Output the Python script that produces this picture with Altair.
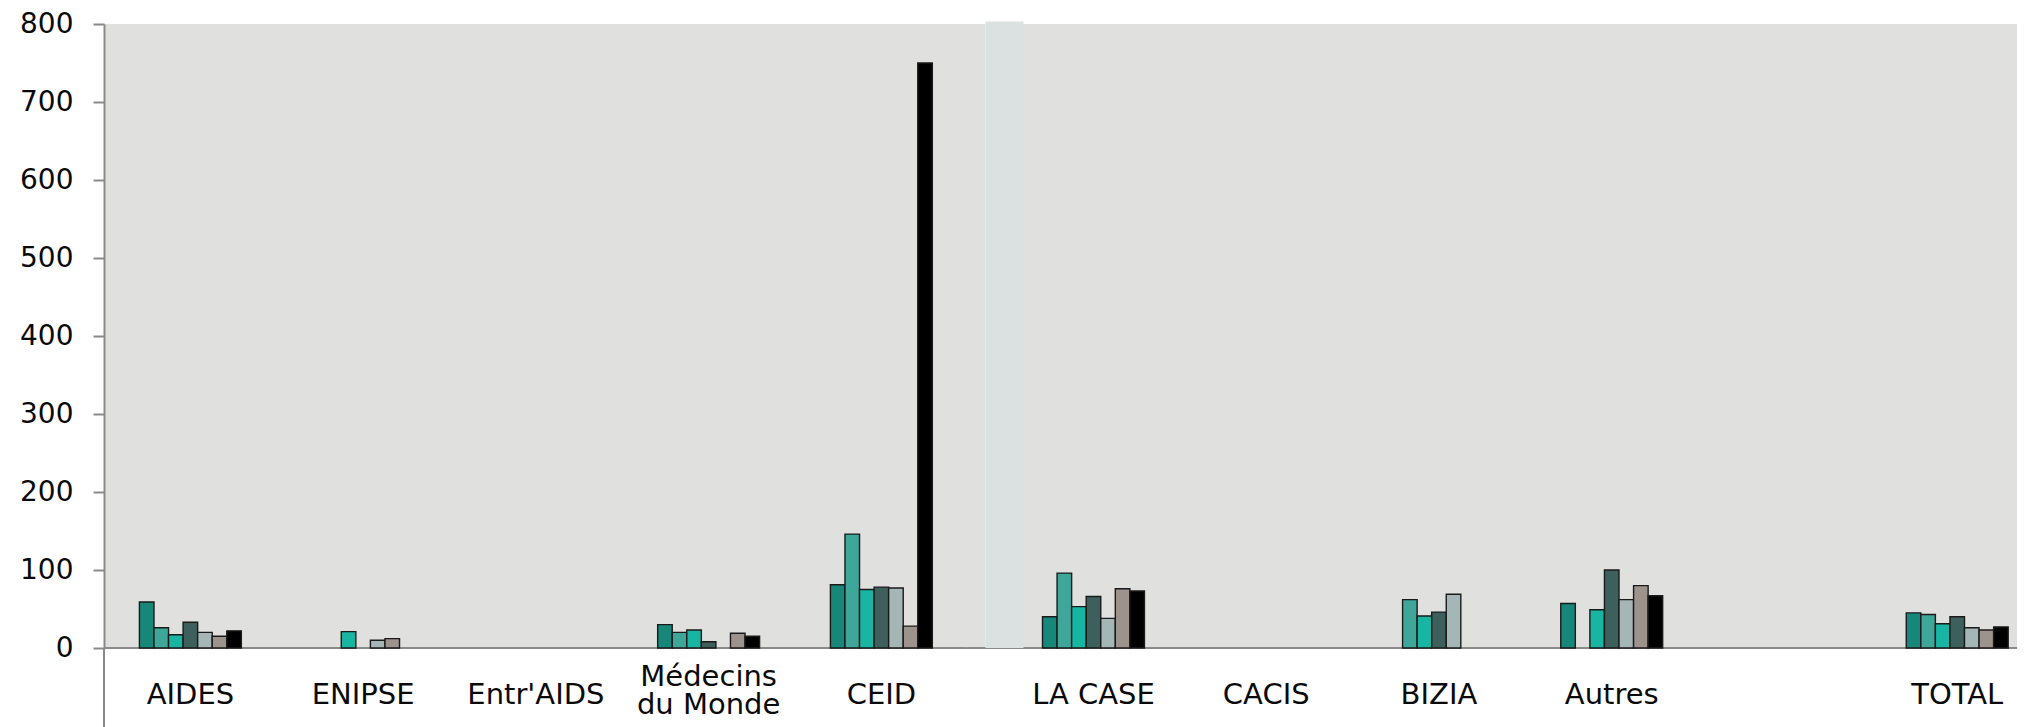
import altair as alt
import pandas as pd

# ---- data ----
series = ["S1", "S2", "S3", "S4", "S5", "S6", "S7"]
series_colors = ["#17877a", "#3fa69a", "#19b5a3", "#3e605c", "#a4b6b6", "#9d938d", "#000000"]

categories_left = ["AIDES", "ENIPSE", "Entr'AIDS", "Médecins du Monde", "CEID"]
categories_right = ["LA CASE", "CACIS", "BIZIA", "Autres", " ", "TOTAL"]

aides = [59, 26, 17, 33, 20, 15, 22]
enipse = [None, None, 21, None, 10, 12, None]
entraids = [None, None, None, None, None, None, None]
medecins = [30, 20, 23, 8, None, 19, 15]
ceid = [81, 146, 75, 78, 77, 28, 750]
la_case = [40, 96, 53, 66, 38, 76, 73]
cacis = [None, None, None, None, None, None, None]
bizia = [None, 62, 41, 46, 69, None, None]
autres = [57, None, 49, 100, 62, 80, 67]
blank = [None, None, None, None, None, None, None]
total = [45, 43, 31, 40, 26, 23, 27]

y_ticks = [0, 100, 200, 300, 400, 500, 600, 700, 800]

table = {
    "AIDES": aides, "ENIPSE": enipse, "Entr'AIDS": entraids,
    "Médecins du Monde": medecins, "CEID": ceid,
    "LA CASE": la_case, "CACIS": cacis, "BIZIA": bizia,
    "Autres": autres, " ": blank, "TOTAL": total,
}
rows = []
for cat, vals in table.items():
    for s, v in zip(series, vals):
        if v is not None:
            rows.append({"cat": cat, "series": s, "value": v})
df = pd.DataFrame(rows)

FONT = "DejaVu Sans"
BG = "#e0e0df"
STRIP = "#dbe0e0"
AXIS_GRAY = "#8a8a8a"
PLOT_H = 624
BAND = 172.75
P_INNER = 0.41
LEFT_W = BAND * len(categories_left)
GAP = 39.1
RIGHT_W = 1010
# right panel: same step as the left one, the last band running past the edge
R_OUTER = (RIGHT_W / BAND - len(categories_right) + P_INNER) / 2
R_ALIGN = (BAND * P_INNER / 2) / (RIGHT_W - BAND * (len(categories_right) - P_INNER))

label_expr = "datum.value == 'Médecins du Monde' ? ['Médecins', 'du Monde'] : datum.value"


def x_axis():
    return alt.Axis(
        title=None, domain=False, ticks=False, tickSize=0, labelAngle=0,
        labelFont=FONT, labelFontSize=29, labelColor="#0a0a0a",
        labelPadding={"condition": {"test": "datum.value == 'Médecins du Monde'", "value": 28},
                      "value": 46},
        labelBaseline="middle", labelLineHeight=28,
        labelLimit=0, labelOverlap=False, labelExpr=label_expr,
    )


def bars(cats, xscale, y_axis):
    d = df[df["cat"].isin(cats)]
    return alt.Chart(d).mark_bar(stroke="#1a1a1a", strokeWidth=1.4).encode(
        x=alt.X("cat:N", sort=cats, scale=xscale, axis=x_axis()),
        xOffset=alt.XOffset("series:N", sort=series,
                            scale=alt.Scale(domain=series, paddingInner=0, paddingOuter=0)),
        y=alt.Y("value:Q", scale=alt.Scale(domain=[0, 800], nice=False, zero=True), axis=y_axis),
        color=alt.Color("series:N", scale=alt.Scale(domain=series, range=series_colors), legend=None),
    )


one = pd.DataFrame({"k": [0]})

# left panel
y_axis_left = alt.Axis(
    title=None, values=y_ticks, grid=False,
    labelFont=FONT, labelFontSize=28, labelColor="#0a0a0a",
    labelPadding=20, tickSize=11, tickWidth=2, tickColor=AXIS_GRAY,
    domainColor=AXIS_GRAY, domainWidth=2,
)
left_bars = bars(categories_left,
                 alt.Scale(domain=categories_left, paddingInner=P_INNER, paddingOuter=P_INNER / 2),
                 y_axis_left)
left_zero = alt.Chart(one).mark_rule(color=AXIS_GRAY, strokeWidth=2).encode(
    x=alt.value(0), x2=alt.value(LEFT_W), y=alt.YDatum(0))
left_ext = alt.Chart(one).mark_rule(color=AXIS_GRAY, strokeWidth=2).encode(
    x=alt.value(0), y=alt.value(PLOT_H), y2=alt.value(PLOT_H + 82))
left = alt.layer(left_zero, left_ext, left_bars).properties(width=LEFT_W, height=PLOT_H)

# right panel
gap_rect = alt.Chart(one).mark_rect(color=BG).encode(
    x=alt.value(-GAP - 1.5), x2=alt.value(-21.6), y=alt.value(0), y2=alt.value(PLOT_H))
strip_rect = alt.Chart(one).mark_rect(color=STRIP).encode(
    x=alt.value(-21.6), x2=alt.value(16.4), y=alt.value(-2.5), y2=alt.value(PLOT_H))
right_zero = alt.Chart(one).mark_rule(color=AXIS_GRAY, strokeWidth=2).encode(
    x=alt.value(-GAP - 1.5), x2=alt.value(RIGHT_W), y=alt.YDatum(0, axis=None))
right_bars = bars(categories_right,
                  alt.Scale(domain=categories_right, paddingInner=P_INNER,
                            paddingOuter=R_OUTER, align=R_ALIGN),
                  None)
right = alt.layer(gap_rect, right_zero, strip_rect, right_bars).properties(width=RIGHT_W, height=PLOT_H)

chart = alt.hconcat(left, right, spacing=GAP, bounds="flush").resolve_scale(
    x="independent", y="independent", xOffset="independent", color="shared"
).properties(
    padding={"left": 11, "top": 2, "right": 0, "bottom": 0},
    background="#ffffff",
).configure_view(fill=BG, stroke=None)

chart.save("out.html", embed_options={"renderer": "svg", "actions": False})
